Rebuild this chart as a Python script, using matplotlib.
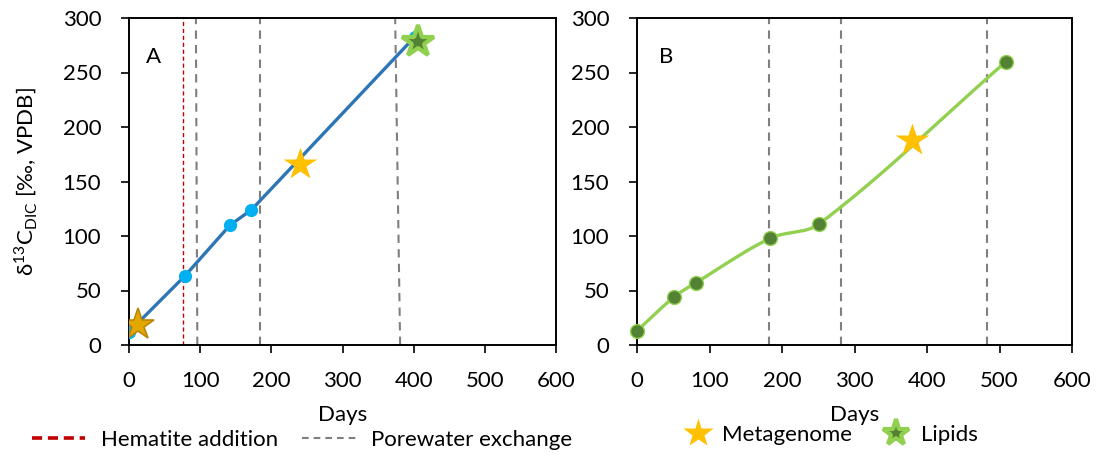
import numpy as np
import matplotlib
matplotlib.use("Agg")
import matplotlib.pyplot as plt
from matplotlib.lines import Line2D

plt.rcParams['font.family'] = ['Lato', 'DejaVu Sans']
plt.rcParams['font.size'] = 16

# Panel A data
a_days = [0, 78, 142, 172, 402]
a_d13c = [12, 63, 110, 124, 283]
a_meta_day, a_meta_val = [12, 240], [18, 166]
a_lipid_day, a_lipid_val = [406], [278]
a_hematite = [76]
a_porewater_top = [94, 184, 374]
a_porewater_bot = [96, 184, 381]

# Panel B data
b_days = [0, 51, 81, 184, 251, 509]
b_d13c = [13, 44, 57, 98, 111, 260]
b_meta_day, b_meta_val = [379], [188]
b_porewater = [182, 281, 483]

xticks = [0, 100, 200, 300, 400, 500, 600]
yticks = [0, 50, 100, 150, 200, 250, 300]

blue_line = '#2E75B6'
blue_pt = '#00B0F0'
gold = '#FFC000'
green_light = '#92D050'
green_dark = '#548235'
grey = '#7F7F7F'
red = '#C00000'


def smooth(x, y, xscale, yscale, n=40):
    """Excel-like smoothed line: Bezier segments, tangent weighted by segment length"""
    P = np.column_stack([np.asarray(x, float), np.asarray(y, float)])
    S = np.array([xscale, yscale])
    P = np.vstack([P[0], P, P[-1]])
    t = np.linspace(0, 1, n)[:, None]
    out = []
    for i in range(1, len(P) - 2):
        p0, p1, p2, p3 = P[i - 1], P[i], P[i + 1], P[i + 2]
        l01 = np.linalg.norm((p1 - p0) * S)
        l12 = np.linalg.norm((p2 - p1) * S)
        l23 = np.linalg.norm((p3 - p2) * S)
        c1 = p1 + (p2 - p0) * l12 / (l01 + l12) / 3
        c2 = p2 - (p3 - p1) * l12 / (l12 + l23) / 3
        seg = (1 - t) ** 3 * p1 + 3 * (1 - t) ** 2 * t * c1 + 3 * (1 - t) * t ** 2 * c2 + t ** 3 * p2
        out.append(seg)
    out = np.vstack(out)
    return out[:, 0], out[:, 1]


fig = plt.figure(figsize=(10.96, 4.55), dpi=100)
axA = fig.add_axes([129 / 1096, 110 / 455, 427 / 1096, 327 / 455])
axB = fig.add_axes([637 / 1096, 110 / 455, 435 / 1096, 327 / 455])

for ax in (axA, axB):
    ax.set_xlim(0, 600)
    ax.set_ylim(0, 300)
    ax.set_xticks(xticks)
    ax.set_yticks(yticks)
    ax.tick_params(direction='out', length=6, width=1.2, labelsize=16)
    ax.tick_params(axis='x', pad=13)
    ax.tick_params(axis='y', pad=14)
    for s in ax.spines.values():
        s.set_linewidth(1.4)
    ax.set_xlabel('Days', fontsize=16, labelpad=10)

# Panel A
axA.plot([a_hematite[0]] * 2, [0, 300], color=red, lw=1.0, dashes=(3, 2), zorder=1)
for xt, xb in zip(a_porewater_top, a_porewater_bot):
    axA.plot([xb, xt], [0, 300], color=grey, lw=1.5, dashes=(4, 3), zorder=1)
axA.plot(a_days, a_d13c, color=blue_line, lw=2.4, zorder=2)
axA.plot(a_days, a_d13c, 'o', color=blue_pt, ms=9.5, mec='none', zorder=3)
axA.plot(a_meta_day[0], a_meta_val[0], '*', ms=24, mfc='#E2A800', mec='#B8860B', mew=1.2, zorder=4)
axA.plot(a_meta_day[1], a_meta_val[1], '*', ms=25, mfc=gold, mec='none', zorder=4)
axA.plot(a_lipid_day, a_lipid_val, '*', ms=24, mfc=green_dark, mec=green_light, mew=3, zorder=4)
axA.set_ylabel(r'δ$^{\mathregular{13}}$C$_{\mathregular{DIC}}$ [‰, VPDB]', fontsize=16, labelpad=16)
axA.text(0.04, 0.88, 'A', transform=axA.transAxes, fontsize=16, va='center', ha='left')

# Panel B
for xv in b_porewater:
    axB.plot([xv, xv], [0, 300], color=grey, lw=1.5, dashes=(4, 3), zorder=1)
sx, sy = smooth(b_days, b_d13c, 435 / 600, 327 / 300)
axB.plot(sx, sy, color=green_light, lw=2.4, zorder=2)
axB.plot(b_days, b_d13c, 'o', color=green_dark, ms=10, mec=green_light, mew=1, zorder=3, clip_on=False)
axB.plot(b_meta_day, b_meta_val, '*', ms=25, mfc=gold, mec='none', zorder=4)
axB.text(0.05, 0.88, 'B', transform=axB.transAxes, fontsize=16, va='center', ha='left')

# Legends
h1 = [Line2D([], [], color=red, lw=2.6, dashes=(2.8, 1.6)),
      Line2D([], [], color=grey, lw=1.5, dashes=(3.2, 2.4))]
fig.legend(h1, ['Hematite addition', 'Porewater exchange'], loc='center',
           bbox_to_anchor=(302 / 1096, 1 - 440 / 455), ncol=2, frameon=False,
           fontsize=16, handlelength=2.4, handletextpad=0.7, columnspacing=1.1)
h2 = [Line2D([], [], ls='none', marker='*', ms=22, mfc=gold, mec='none'),
      Line2D([], [], ls='none', marker='*', ms=20, mfc=green_dark, mec=green_light, mew=3)]
fig.legend(h2, ['Metagenome', 'Lipids'], loc='center',
           bbox_to_anchor=(831 / 1096, 1 - 435 / 455), ncol=2, frameon=False,
           fontsize=16, handlelength=1.2, handletextpad=0.5, columnspacing=1.4)

fig.savefig('out.png', dpi=100)
